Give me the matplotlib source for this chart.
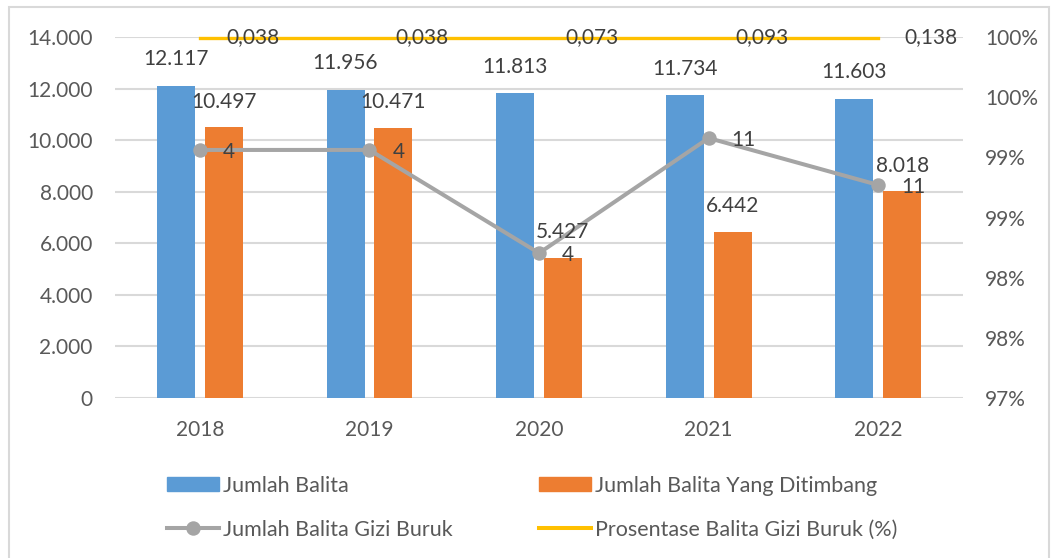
import matplotlib
matplotlib.use('Agg')
import matplotlib.pyplot as plt
from matplotlib.lines import Line2D
from matplotlib.patches import Patch, Rectangle
import numpy as np

plt.rcParams['font.family'] = ['Lato', 'DejaVu Sans']

# data
years = ['2018', '2019', '2020', '2021', '2022']
jumlah_balita = [12117, 11956, 11813, 11734, 11603]
ditimbang = [10497, 10471, 5427, 6442, 8018]
gizi_buruk = [4, 4, 4, 11, 11]
# where the Gizi Buruk line sits on the left scale in the original chart
gizi_buruk_pos = [9620, 9620, 5620, 10080, 8260]
prosentase = ['0,038', '0,038', '0,073', '0,093', '0,138']
left_ticks = [0, 2000, 4000, 6000, 8000, 10000, 12000, 14000]
right_ticks = [0.97, 0.975, 0.98, 0.985, 0.99, 0.995, 1.0]
right_tick_labels = ['97%', '98%', '98%', '99%', '99%', '100%', '100%']

BLUE = '#5B9BD5'
ORANGE = '#ED7D31'
GREY = '#A5A5A5'
YELLOW = '#FFC000'
GRID = '#D9D9D9'
TICK = '#595959'
LABEL = '#404040'
FS = 15

fig = plt.figure(figsize=(10.51, 5.58), dpi=100)
ax = fig.add_axes([0.1094, 0.2867, 0.807, 0.647])
ax2 = ax.twinx()

x = np.arange(len(years))
w = 0.224
off = 0.141

ax.bar(x - off, jumlah_balita, w, color=BLUE, zorder=2)
ax.bar(x + off, ditimbang, w, color=ORANGE, zorder=2)
ax.plot(x, gizi_buruk_pos, color=GREY, lw=2.9, marker='o', ms=9.4, zorder=3)

ax.set_xlim(-0.5, 4.5)
ax.set_ylim(0, 14000)
ax.set_yticks(left_ticks)
ax.set_yticklabels([f"{v:,}".replace(',', '.') for v in left_ticks])
ax.set_xticks(x)
ax.set_xticklabels(years)
ax.grid(axis='y', color=GRID, lw=1.5, zorder=0)
ax.set_axisbelow(True)
for s in ax.spines.values():
    s.set_visible(False)
for s in ax2.spines.values():
    s.set_visible(False)
ax.tick_params(axis='y', length=0, pad=16, labelsize=FS, labelcolor=TICK)
ax.tick_params(axis='x', length=0, pad=16, labelsize=FS, labelcolor=TICK)

ax2.set_ylim(0.97, 1.0)
ax2.set_yticks(right_ticks)
ax2.set_yticklabels(right_tick_labels)
ax2.tick_params(axis='y', length=0, pad=16, labelsize=FS, labelcolor=TICK)

# percentage series is clipped at the top of the secondary axis
top = ax2.get_ylim()[1]
ax2.plot(x, np.full(len(x), top) - 0.00005, color=YELLOW, lw=2.4, clip_on=False, zorder=3)

# data labels
for xi, v in zip(x, jumlah_balita):
    ax.annotate(f"{v:,}".replace(',', '.'), (xi - off, v), xytext=(0, 19),
                textcoords='offset points', ha='center', va='center',
                fontsize=FS, color=LABEL, zorder=5)
for xi, v in zip(x, ditimbang):
    ax.annotate(f"{v:,}".replace(',', '.'), (xi + off, v), xytext=(0, 18.5),
                textcoords='offset points', ha='center', va='center',
                fontsize=FS, color=LABEL, zorder=5)
for xi, p, v in zip(x, gizi_buruk_pos, gizi_buruk):
    ax.annotate(str(v), (xi, p), xytext=(16.5, -1.5), textcoords='offset points',
                ha='left', va='center', fontsize=FS, color=LABEL, zorder=5)
for xi, t in zip(x, prosentase):
    ax2.annotate(t, (xi, top), xytext=(19, 0), textcoords='offset points',
                 ha='left', va='center', fontsize=FS, color=LABEL,
                 annotation_clip=False, zorder=5)

handles = [
    Patch(color=BLUE, label='Jumlah Balita'),
    Line2D([], [], color=GREY, lw=2.9, marker='o', ms=9.4, label='Jumlah Balita Gizi Buruk'),
    Patch(color=ORANGE, label='Jumlah Balita Yang Ditimbang'),
    Line2D([], [], color=YELLOW, lw=2.9, label='Prosentase Balita Gizi Buruk (%)'),
]
fig.legend(handles=handles, ncol=2, loc='upper left',
           bbox_to_anchor=(0.159, 0.147), frameon=False, fontsize=15.5,
           labelcolor=TICK, handlelength=2.42, handleheight=0.62,
           handletextpad=0.19, columnspacing=4.0, labelspacing=1.1,
           borderaxespad=0, borderpad=0)

# chart area border
fig.patches.append(Rectangle((9 / 1051, -0.05), 1040 / 1051, 1.05 - 7 / 558,
                             transform=fig.transFigure, fill=False,
                             edgecolor=GRID, lw=1.5))

fig.savefig('out.png', dpi=100)
plt.close(fig)
